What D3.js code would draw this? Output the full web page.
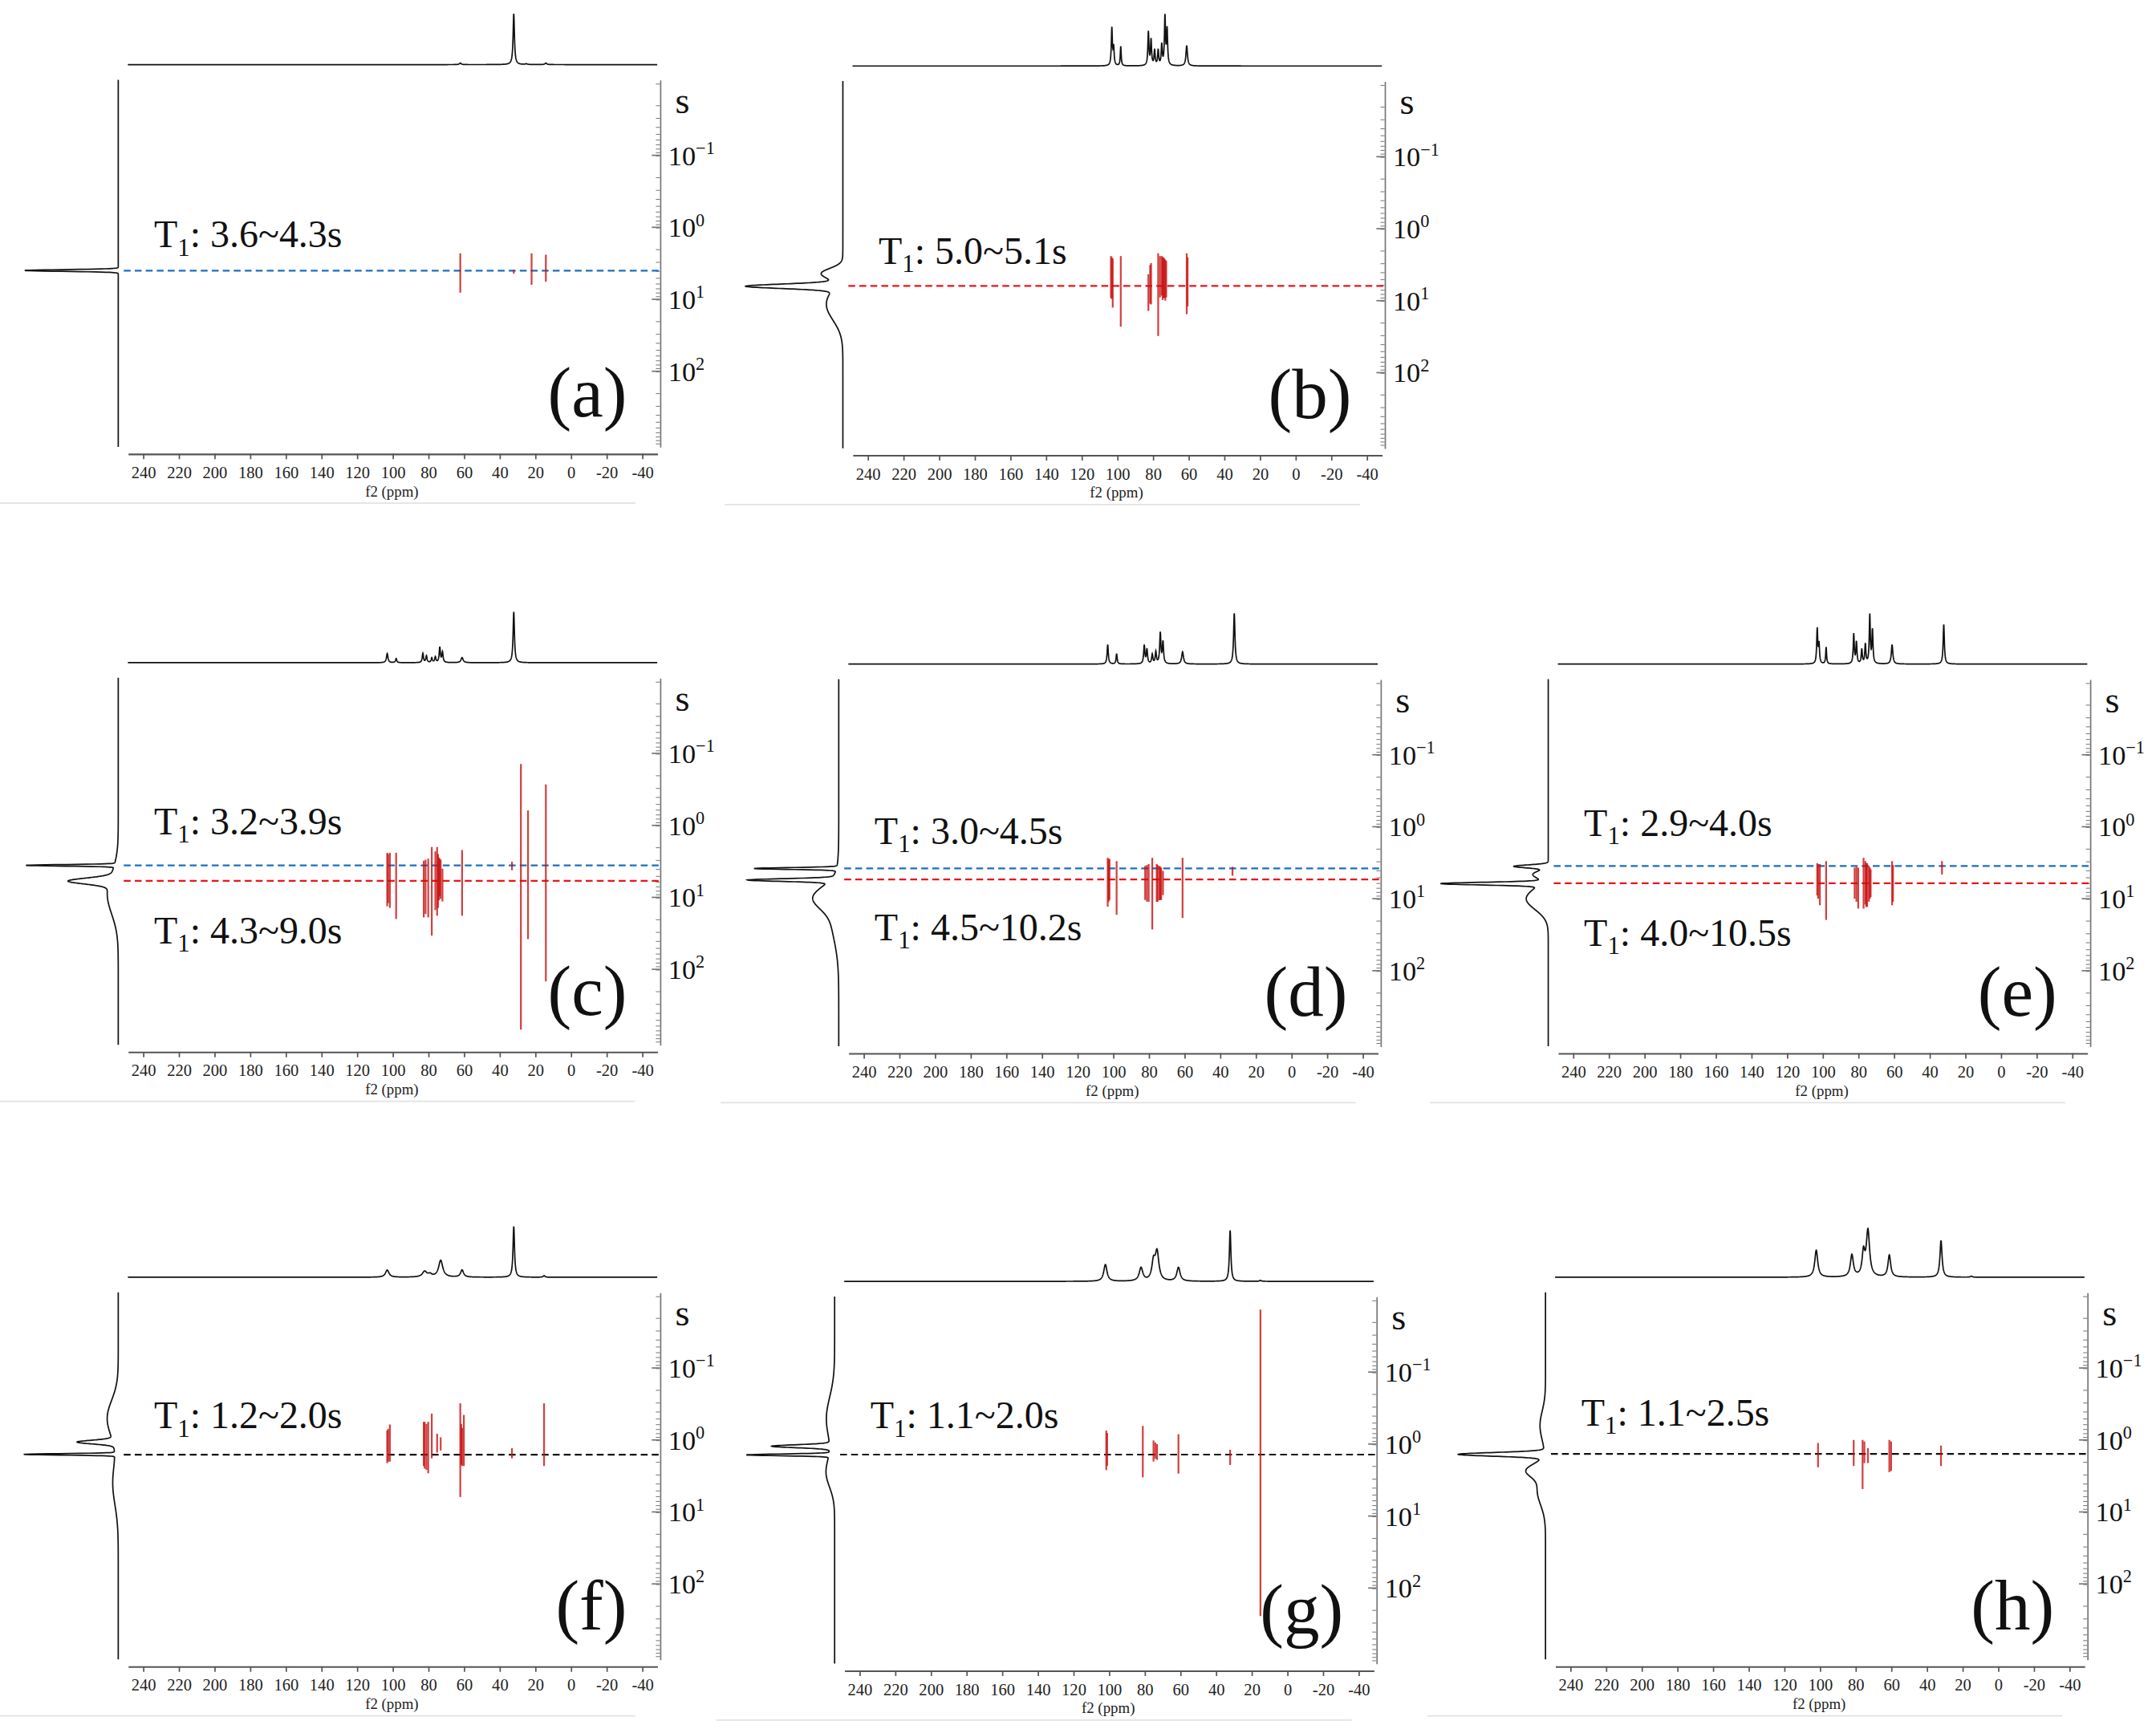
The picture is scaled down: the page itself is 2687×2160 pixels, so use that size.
<!DOCTYPE html>
<html><head><meta charset="utf-8">
<script src="https://cdn.jsdelivr.net/npm/d3@7"></script>
<style>body{margin:0;background:#fff}svg{display:block} text{font-family:"Liberation Serif","Times New Roman","DejaVu Serif",serif !important;}</style>
</head><body>
<script>
// ---------- DATA ----------
const panelLetters = ["a","b","c","d","e","f","g","h"];
const ppmTicks = [240,220,200,180,160,140,120,100,80,60,40,20,0,-20,-40];
const t1Ticks = [0.1,1,10,100];
const t1TickExp = ["\u22121","0","1","2"];
const t1Labels = {
  a:["3.6~4.3s"], b:["5.0~5.1s"], c:["3.2~3.9s","4.3~9.0s"], d:["3.0~4.5s","4.5~10.2s"],
  e:["2.9~4.0s","4.0~10.5s"], f:["1.2~2.0s"], g:["1.1~2.0s"], h:["1.1~2.5s"]
};
// dashed reference lines: [T1 (s), kind]
const dashLines = {
  a:[[4.0,"blue"]], b:[[6.25,"red"]], c:[[3.6,"blue"],[5.9,"red"]], d:[[3.8,"blue"],[5.4,"red"]],
  e:[[3.5,"blue"],[6.1,"red"]], f:[[1.6,"black"]], g:[[1.4,"black"]], h:[[1.56,"black"]]
};
// 2D cross-peaks: [ppm, T1 low (s), T1 high (s)]
const bars = {
  a:[[62,2.3,8.1],[32,3.9,4.4],[22,2.3,6.3],[14,2.4,5.7]],
  b:[[103.5,2.4,9.2],[103,2.5,9.5],[102.5,2.6,12.5],[98,2.4,23],[82.5,4.3,13.9],[81.5,3.2,11],[81,3.0,11.3],
     [77,2.2,31],[76,2.4,9],[75,2.4,8.5],[74.5,2.5,9.8],[74,2.5,9.2],[73.5,2.6,9.2],[73,2.7,10],[72.5,2.8,9],[61,2.2,15.4],[60.5,2.5,12]],
  c:[[103,2.4,13.3],[102.5,2.5,12],[101.5,2.4,14],[98,2.4,20],[82.5,3.1,19],[81.5,3.0,17],[80,2.9,19],[78,2.0,34],[76,2.3,15],
     [75,2.0,18],[74.5,2.5,14],[74,2.8,11],[73.5,2.9,9.7],[73,3.0,10.5],[72,4.0,11.4],[61,2.2,18],[33,3.2,4.2],
     [28,0.14,686],[24,0.62,38],[14,0.27,147]],
  d:[[103,2.7,12.9],[102.5,2.8,11],[102,2.8,10.4],[98,3.0,16.7],[82,3.5,10.4],[81,3.4,11],[80,3.3,11],[78,2.7,26.7],
     [75.5,3.3,11],[75,3.4,11],[74,3.5,10.5],[73.5,3.6,10.4],[73,3.7,10.4],[72,4.1,8.9],[61,2.7,18.5],[33,3.6,4.8]],
  e:[[103,3.2,9],[102.5,3.3,10],[101.5,3.3,12.3],[98,3.0,19.7],[82,3.7,10],[81,3.6,11],[80,3.7,13.7],[77,2.7,13.7],
     [76,3.0,12],[75.5,3.2,13],[75,3.2,13],[74,3.5,11],[73.5,3.7,10],[73,3.9,9.5],[61,3.0,12.3],[60.5,3.4,11],[33,3.0,4.6]],
  f:[[103,0.74,2.1],[102.5,0.7,2.0],[101.5,0.61,2.0],[82.5,0.56,2.3],[82,0.56,2.5],[81,0.6,2.6],[80,0.56,2.9],[78,0.43,1.8],
     [75,0.82,1.5],[73,0.92,1.4],[62,0.31,6.2],[61.5,0.6,2.2],[61,0.68,2.3],[60,0.45,2.3],[33,1.3,1.8],[15,0.31,2.3]],
  g:[[101.5,0.65,2.3],[101,0.7,2.0],[81,0.56,2.9],[75,0.89,1.75],[74,0.95,1.6],[73,1.0,1.66],[61,0.73,2.57],[32,1.2,1.95],[15,0.0135,245]],
  h:[[101,1.1,2.4],[81,1.0,2.3],[76,1.0,4.8],[75,1.05,2.1],[73,1.3,2.1],[61,1.0,2.8],[60,1.05,2.7],[32,1.2,2.3]]
};
// top 1D spectrum peaks: [ppm, relative height, half-width ppm]
const topPeaks = {
  a:[[32,1.0,0.45],[62,0.03,0.6],[14,0.03,0.6],[25,0.015,0.6]],
  b:[[103,0.73,0.35],[102,0.35,0.35],[98,0.38,0.3],[82.5,0.66,0.35],[81,0.5,0.35],[79,0.3,0.35],[77,0.3,0.35],[75,0.4,0.35],[73.2,0.95,0.35],[72,0.7,0.35],[61,0.4,0.5]],
  c:[[32,1.0,0.45],[103,0.18,0.5],[98,0.08,0.4],[83,0.18,0.4],[81,0.13,0.4],[78,0.09,0.4],[76,0.11,0.4],[73.5,0.3,0.4],[72,0.2,0.4],[61,0.1,0.7]],
  d:[[32,1.0,0.45],[103,0.38,0.4],[98,0.2,0.35],[82.5,0.36,0.4],[81,0.28,0.4],[78,0.18,0.4],[76,0.23,0.4],[73.5,0.6,0.4],[72,0.42,0.4],[61,0.24,0.6]],
  e:[[103,0.68,0.35],[102,0.38,0.35],[98,0.33,0.3],[82.5,0.58,0.35],[81,0.42,0.35],[78,0.28,0.35],[76,0.38,0.35],[73.5,0.95,0.35],[72,0.65,0.35],[61,0.38,0.5],[32,0.78,0.4]],
  f:[[32,1.0,0.5],[103,0.14,1.2],[82,0.11,1.5],[79,0.05,1.2],[73,0.33,1.4],[61,0.14,1.0],[15,0.03,0.6]],
  g:[[32,1.0,0.5],[102,0.33,1.1],[82,0.26,1.2],[75,0.35,1.1],[73,0.55,1.2],[61,0.27,1.1],[15,0.02,0.6]],
  h:[[102,0.53,1.0],[82,0.43,1.0],[75.5,0.45,0.9],[73,0.9,1.1],[61,0.43,0.9],[32,0.72,0.7],[15,0.02,0.6]]
};
// left 1D projection peaks (T1 axis): [log10 T1 centre, amplitude, sigma (decades)]
const sidePeaks = {
  a:[[0.6,68,0.012]],
  b:[[0.8,64,0.03],[0.62,14,0.07],[1.05,12,0.22]],
  c:[[0.555,64,0.01],[0.773,30,0.04],[0.95,8,0.28]],
  d:[[0.58,60,0.012],[0.74,60,0.018],[0.98,14,0.15],[1.2,6,0.35]],
  e:[[0.55,24,0.02],[0.79,72,0.018],[0.66,10,0.05],[1.0,16,0.15]],
  f:[[0.2,66,0.01],[0.03,26,0.025],[-0.3,8,0.25],[0.6,4,0.3]],
  g:[[0.15,60,0.012],[0.03,42,0.02],[-0.35,6,0.3],[0.4,6,0.2]],
  h:[[0.2,62,0.025],[0.42,12,0.09],[-0.2,4,0.2],[0.7,6,0.2]]
};
const offsets = {a:[0,0],b:[527,1],c:[0,435],d:[524,436],e:[1040,436],f:[0,882],g:[521,885],h:[1038,882]};
const labelY = {a:[180],b:[191],c:[172,251],d:[178,248],e:[172,252],f:[157],g:[154],h:[155]};

// ---------- DRAW ----------
const W=2687,H=2160,VW=1568,VH=VW*H/W;
const FF="'Liberation Serif','Times New Roman','DejaVu Serif',serif";
const svg=d3.select("body").append("svg").attr("width",W).attr("height",H)
  .attr("viewBox",`0 0 ${VW} ${VH}`).attr("font-family",FF);
const dashColor={blue:"#1a6fc0",red:"#e8161b",black:"#111"};

panelLetters.forEach(k=>{
  const [dx,dy]=offsets[k];
  const g=svg.append("g").attr("transform",`translate(${dx},${dy})`);
  const x=d3.scaleLinear().domain([248.5,-48.5]).range([93,478]);
  const y=d3.scaleLog().domain([Math.pow(10,-2.05),Math.pow(10,3.05)]).range([58,325]);
  g.append("line").attr("x1",0).attr("x2",462).attr("y1",366).attr("y2",366).attr("stroke","#e2e2e2").attr("stroke-width",1);
  // top spectrum
  const grid=d3.range(248.5,-48.6,-0.1);
  const tp=topPeaks[k];
  const top=d3.line().x(p=>x(p)).y(p=>47-37*d3.sum(tp,q=>q[1]/(1+Math.pow((p-q[0])/q[2],2))));
  g.append("path").attr("d",top(grid)).attr("fill","none").attr("stroke","#111").attr("stroke-width",1);
  // side projection
  const lg=d3.range(-2.05,3.051,0.002);
  const sp=sidePeaks[k];
  const side=d3.line().y(l=>y(Math.pow(10,l))).x(l=>86-d3.sum(sp,q=>q[1]*Math.exp(-Math.pow(l-q[0],2)/(2*q[2]*q[2]))));
  g.append("path").attr("d",side(lg)).attr("fill","none").attr("stroke","#111").attr("stroke-width",1);
  // bottom axis
  const xa=g.append("g").attr("transform","translate(0,330)")
    .call(d3.axisBottom(x).tickValues(ppmTicks).tickSize(4).tickSizeOuter(0).tickFormat(d=>d));
  xa.attr("font-family",FF);
  xa.select(".domain").attr("stroke","#555").attr("stroke-width",1.2);
  xa.selectAll(".tick line").attr("stroke","#555");
  xa.selectAll("text").attr("font-size",12).attr("fill","#222").attr("dy","0.9em");
  g.append("text").attr("x",285).attr("y",361).attr("text-anchor","middle").attr("font-size",11).attr("fill","#222").text("f2 (ppm)");
  // right axis
  const minor=[];
  d3.range(-2,4).forEach(e=>{for(let m=1;m<10;m++){const v=m*Math.pow(10,e);if(v>=y.domain()[0]&&v<=y.domain()[1])minor.push(v);}});
  const ya=g.append("g").attr("transform","translate(480,0)")
    .call(d3.axisLeft(y).tickValues(minor).tickSize(3).tickSizeOuter(0).tickFormat(""));
  ya.select(".domain").attr("stroke","#777");
  ya.selectAll(".tick line").attr("stroke","#777").attr("stroke-width",0.6);
  g.append("g").selectAll("line").data(t1Ticks).join("line")
    .attr("x1",474).attr("x2",480).attr("y1",d=>y(d)).attr("y2",d=>y(d)).attr("stroke","#777");
  const tl=g.append("g").selectAll("text").data(t1Ticks).join("text")
    .attr("x",486).attr("y",d=>y(d)+7).attr("font-size",20).attr("fill","#111");
  tl.append("tspan").text("10");
  tl.append("tspan").attr("dy",-8).attr("font-size",13).text((d,i)=>t1TickExp[i]);
  g.append("text").attr("x",491).attr("y",82).attr("font-size",27).attr("fill","#111").text("s");
  // dashed lines
  g.append("g").selectAll("line").data(dashLines[k]).join("line")
    .attr("x1",90).attr("x2",480).attr("y1",d=>y(d[0])).attr("y2",d=>y(d[0]))
    .attr("stroke",d=>dashColor[d[1]]).attr("stroke-width",1.3).attr("stroke-dasharray","5,3");
  // cross-peaks
  g.append("g").selectAll("line").data(bars[k]).join("line")
    .attr("x1",d=>x(d[0])).attr("x2",d=>x(d[0])).attr("y1",d=>y(d[1])).attr("y2",d=>y(d[2]))
    .attr("stroke","#c81010").attr("stroke-opacity",0.8).attr("stroke-width",1.3);
  // T1 labels
  t1Labels[k].forEach((s,i)=>{
    const t=g.append("text").attr("x",112).attr("y",labelY[k][i]).attr("font-size",28).attr("fill","#111");
    t.append("tspan").text("T");
    t.append("tspan").attr("font-size",18).attr("dy",6).text("1");
    t.append("tspan").attr("dy",-6).text(": "+s);
  });
  g.append("text").attr("x",456).attr("y",303).attr("text-anchor","end").attr("font-size",52).attr("fill","#111").text("("+k+")");
});
</script>
</body></html>
